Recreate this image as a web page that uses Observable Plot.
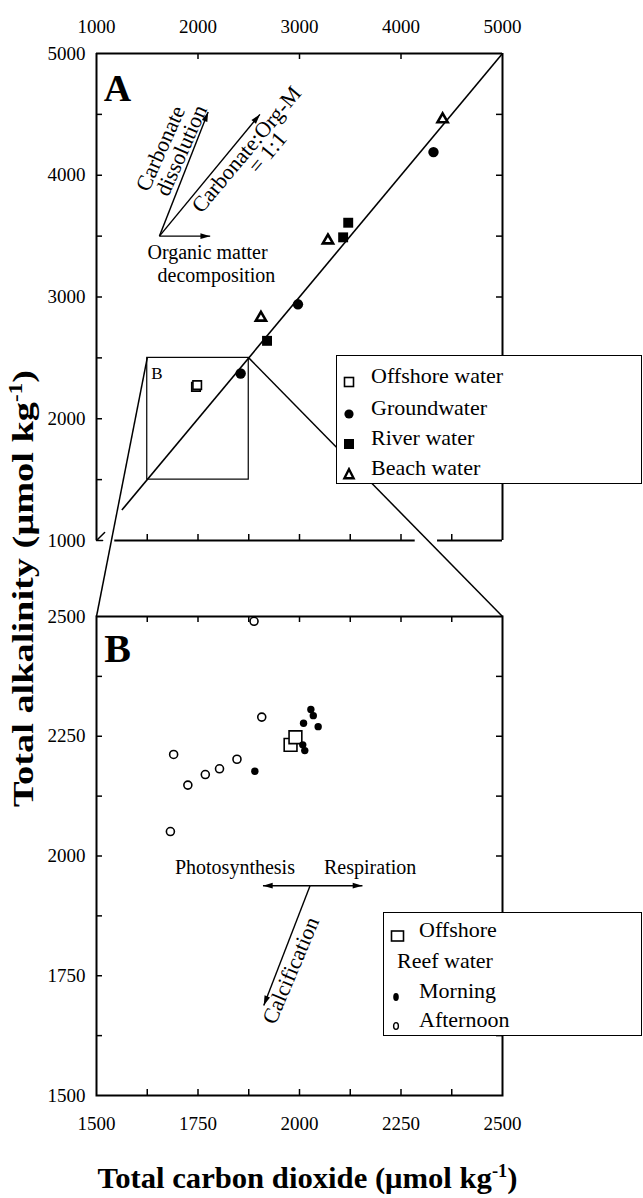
<!DOCTYPE html>
<html>
<head>
<meta charset="utf-8">
<script src="https://cdn.jsdelivr.net/npm/d3@7"></script>
<script src="https://cdn.jsdelivr.net/npm/@observablehq/plot@0.6"></script>
<style>
html,body{margin:0;padding:0;background:#fff;}
#wrap{position:relative;width:643px;height:1198px;overflow:hidden;background:#fff;}
#wrap > svg{position:absolute;left:0;top:0;}
.legend{position:absolute;background:#fff;border:1.6px solid #000;box-sizing:border-box;font-family:"Liberation Serif","Times New Roman",serif;font-size:22px;color:#000;z-index:5;}
.legend .sym{position:absolute;}
.legend .lab{position:absolute;line-height:1;white-space:nowrap;}
</style>
</head>
<body>
<div id="wrap"></div>
<script>
// ---------------- DATA ----------------
// Panel A (full range)
const xDomainA = [1000, 5000];
const yDomainA = [1000, 5000];
const tickLabelsA = [1000, 2000, 3000, 4000, 5000];
const minorTicksA = [1500, 2000, 2500, 3000, 3500, 4000, 4500];
const topTicksA = [2000, 3000, 4000];
const bottomEdgeA = [[1180, 4140], [4360, 5000]];
const breakMarkA = [[1080, 1065], [1000, 1000], [1060, 1000]];
const oneToOneLine = [1250, 5000];

const offshoreAx = [1980, 1992];
const offshoreAy = [2262, 2276];
const groundAx = [2420, 2985, 4320];
const groundAy = [2372, 2940, 4190];
const riverAx = [2680, 3430, 3480];
const riverAy = [2640, 3490, 3610];
const beachAx = [2620, 3280, 4410];
const beachAy = [2830, 3465, 4460];

const arrowA_x1 = [1620, 1620, 1620];
const arrowA_y1 = [3500, 3500, 3500];
const arrowA_x2 = [2120, 2100, 2610];
const arrowA_y2 = [3500, 4520, 4500];

const annoA_text = ["Carbonate", "dissolution", "Carbonate:Org-M", "= 1:1", "Organic matter", "decomposition"];
const annoA_x = [1631, 1837, 2478, 2685, 2094, 2182];
const annoA_y = [4220, 4203, 4211, 4187, 3365, 3177];
const annoA_rot = [-66, -66, -50, -50, 0, 0];

// Panel B (zoom)
const xDomainB = [1500, 2500];
const yDomainB = [1500, 2500];
const tickLabelsB = [1500, 1750, 2000, 2250, 2500];
const minorTicksB = [1625, 1750, 1875, 2000, 2125, 2250, 2375];

const offshoreBx = [1978, 1990];
const offshoreBy = [2232, 2248];
const morningX = [1890, 2010, 2008, 2013, 2028, 2034, 2046];
const morningY = [2177, 2277, 2232, 2220, 2306, 2293, 2270];
const afternoonX = [1682, 1690, 1725, 1768, 1803, 1846, 1888, 1907];
const afternoonY = [2051, 2212, 2148, 2170, 2182, 2202, 2490, 2290];

const arrowB_x1 = [2026, 2026, 2026];
const arrowB_y1 = [1938, 1938, 1938];
const arrowB_x2 = [1910, 2155, 1912];
const arrowB_y2 = [1938, 1938, 1688];

const annoB_text = ["Photosynthesis", "Respiration", "Calcification"];
const annoB_x = [1841, 2174, 1979];
const annoB_y = [1976, 1976, 1761];
const annoB_rot = [0, 0, -67];

const legendA_labels = ["Offshore water", "Groundwater", "River water", "Beach water"];
const legendB_labels = ["Offshore", "Reef water", "Morning", "Afternoon"];

const xTitle = "Total carbon dioxide (\u03bcmol kg";
const yTitle = "Total alkalinity (\u03bcmol kg";

// ---------------- LAYOUT ----------------
const W = 643, H = 1198;
const A = {l: 96, r: 502, t: 53, b: 540};
const B = {l: 96, r: 502, t: 616, b: 1095};
const TL = 6; // tick length
const serif = '"Liberation Serif","Times New Roman",serif';
const baseStyle = {background: "transparent", fontFamily: serif, fontSize: "19px", color: "#000", overflow: "visible"};
const fmt = d3.format("d");

const sxA = Plot.scale({x: {domain: xDomainA, range: [A.l, A.r]}});
const syA = Plot.scale({y: {domain: yDomainA, range: [A.b, A.t]}});
const sxB = Plot.scale({x: {domain: xDomainB, range: [B.l, B.r]}});
const syB = Plot.scale({y: {domain: yDomainB, range: [B.b, B.t]}});

const arrowHead = {
  draw(ctx, size) {
    const s = Math.sqrt(size);
    ctx.moveTo(0, 0);
    ctx.lineTo(-s * 0.3, s);
    ctx.lineTo(s * 0.3, s);
    ctx.closePath();
  }
};
function headAngle(d, sx, sy) {
  const dx = sx.apply(d.x2) - sx.apply(d.x1), dy = sy.apply(d.y2) - sy.apply(d.y1);
  return Math.atan2(dy, dx) * 180 / Math.PI + 90;
}
const zip = (xs, ys) => xs.map((x, i) => ({x, y: ys[i]}));

const arrowsA = arrowA_x1.map((x1, i) => ({x1, y1: arrowA_y1[i], x2: arrowA_x2[i], y2: arrowA_y2[i]}));
const arrowsB = arrowB_x1.map((x1, i) => ({x1, y1: arrowB_y1[i], x2: arrowB_x2[i], y2: arrowB_y2[i]}));
const annoA = annoA_text.map((t, i) => ({t, x: annoA_x[i], y: annoA_y[i], a: annoA_rot[i], s: annoA_rot[i] ? 22 : 20}));
const annoB = annoB_text.map((t, i) => ({t, x: annoB_x[i], y: annoB_y[i], a: annoB_rot[i], s: annoB_rot[i] ? 22 : 20}));

// zoom connector lines: from box corners in A to the top corners of panel B
const zoomLinks = xDomainB.map(v => ({
  x1: v, y1: yDomainB[1],
  x2: sxA.invert(sxB.apply(v)), y2: syA.invert(syB.apply(yDomainB[1]))
}));

// axis-title anchor points (pixel position converted through the panel scales)
const yTitlePos = [{x: sxA.invert(23), y: syA.invert(588)}];
const xTitlePos = [{x: sxB.invert(307), y: syB.invert(1178)}];

const fhA = A.b - A.t, fwA = A.r - A.l;
const fhB = B.b - B.t, fwB = B.r - B.l;

// ---------------- PANEL A ----------------
const plotA = Plot.plot({
  width: W, height: H,
  marginLeft: A.l, marginRight: W - A.r, marginTop: A.t, marginBottom: H - A.b,
  x: {domain: xDomainA}, y: {domain: yDomainA},
  style: baseStyle,
  marks: [
    Plot.axisX(tickLabelsA, {anchor: "top", tickSize: 0, tickPadding: 21, label: null, tickFormat: fmt}),
    Plot.axisY(tickLabelsA, {anchor: "left", tickSize: 0, tickPadding: 11, label: null, tickFormat: fmt}),
    Plot.tickX(topTicksA, {x: d => d, insetBottom: fhA - TL, strokeWidth: 1.5}),
    Plot.tickX(minorTicksA, {x: d => d, insetTop: fhA - TL, strokeWidth: 1.5}),
    Plot.tickY(minorTicksA, {y: d => d, insetRight: fwA - TL, strokeWidth: 1.5}),
    Plot.tickY(minorTicksA, {y: d => d, insetLeft: fwA - TL, strokeWidth: 1.5}),
    Plot.ruleY([yDomainA[1]], {x1: xDomainA[0], x2: xDomainA[1], strokeWidth: 2}),
    Plot.ruleX(xDomainA, {y1: yDomainA[0], y2: yDomainA[1], strokeWidth: 2}),
    Plot.ruleY(bottomEdgeA, {y: () => yDomainA[0], x1: d => d[0], x2: d => d[1], strokeWidth: 2}),
    Plot.line(breakMarkA, {x: d => d[0], y: d => d[1], strokeWidth: 1.5}),
    Plot.link([oneToOneLine], {x1: d => d[0], y1: d => d[0], x2: d => d[1], y2: d => d[1], strokeWidth: 1.6}),
    Plot.rect([0], {x1: () => xDomainB[0], x2: () => xDomainB[1], y1: () => yDomainB[0], y2: () => yDomainB[1], fill: "none", stroke: "black", strokeWidth: 1.2}),
    Plot.link(zoomLinks, {x1: "x1", y1: "y1", x2: "x2", y2: "y2", strokeWidth: 1.5}),
    Plot.text(["B"], {x: () => xDomainB[0], y: () => yDomainB[1], dx: 4, dy: 16, textAnchor: "start", lineAnchor: "middle", fontSize: 17}),
    Plot.text(["A"], {frameAnchor: "top-left", textAnchor: "middle", lineAnchor: "middle", dx: 21, dy: 35, fontSize: 38, fontWeight: "bold"}),
    // arrows
    Plot.link(arrowsA, {x1: "x1", y1: "y1", x2: "x2", y2: "y2", strokeWidth: 1.4}),
    Plot.dot(arrowsA, {x: "x2", y: "y2", symbol: arrowHead, r: 5.5, fill: "black", stroke: "none", rotate: d => headAngle(d, sxA, syA)}),
    Plot.text(annoA, {x: "x", y: "y", text: "t", rotate: "a", fontSize: d => d.s}),
    // data
    Plot.dot(zip(offshoreAx, offshoreAy), {x: "x", y: "y", symbol: "square", r: 4.8, fill: "white", stroke: "black", strokeWidth: 1.6}),
    Plot.dot(zip(groundAx, groundAy), {x: "x", y: "y", r: 5.2, fill: "black"}),
    Plot.dot(zip(riverAx, riverAy), {x: "x", y: "y", symbol: "square", r: 5.6, fill: "black"}),
    Plot.dot(zip(beachAx, beachAy), {x: "x", y: "y", symbol: "triangle", r: 3.8, fill: "white", stroke: "black", strokeWidth: 2.6}),
    // y axis title
    Plot.text(yTitlePos, {x: "x", y: "y", text: () => yTitle, rotate: -90, fontSize: 30, fontWeight: "bold"})
  ]
});

// ---------------- PANEL B ----------------
const plotB = Plot.plot({
  width: W, height: H,
  marginLeft: B.l, marginRight: W - B.r, marginTop: B.t, marginBottom: H - B.b,
  x: {domain: xDomainB}, y: {domain: yDomainB},
  style: baseStyle,
  marks: [
    Plot.axisX(tickLabelsB, {anchor: "bottom", tickSize: 0, tickPadding: 21, label: null, tickFormat: fmt}),
    Plot.axisY(tickLabelsB, {anchor: "left", tickSize: 0, tickPadding: 11, label: null, tickFormat: fmt}),
    Plot.tickX(minorTicksB, {x: d => d, insetBottom: fhB - TL, strokeWidth: 1.5}),
    Plot.tickX(minorTicksB, {x: d => d, insetTop: fhB - TL, strokeWidth: 1.5}),
    Plot.tickY(minorTicksB, {y: d => d, insetRight: fwB - TL, strokeWidth: 1.5}),
    Plot.tickY(minorTicksB, {y: d => d, insetLeft: fwB - TL, strokeWidth: 1.5}),
    Plot.frame({strokeWidth: 2}),
    Plot.text(["B"], {frameAnchor: "top-left", textAnchor: "middle", lineAnchor: "middle", dx: 21, dy: 33, fontSize: 40, fontWeight: "bold"}),
    Plot.link(arrowsB, {x1: "x1", y1: "y1", x2: "x2", y2: "y2", strokeWidth: 1.4}),
    Plot.dot(arrowsB, {x: "x2", y: "y2", symbol: arrowHead, r: 5.5, fill: "black", stroke: "none", rotate: d => headAngle(d, sxB, syB)}),
    Plot.text(annoB, {x: "x", y: "y", text: "t", rotate: "a", fontSize: d => d.s}),
    Plot.dot(zip(offshoreBx, offshoreBy), {x: "x", y: "y", symbol: "square", r: 7.2, fill: "white", stroke: "black", strokeWidth: 1.6}),
    Plot.dot(zip(morningX, morningY), {x: "x", y: "y", r: 3.7, fill: "black"}),
    Plot.dot(zip(afternoonX, afternoonY), {x: "x", y: "y", r: 4, fill: "white", stroke: "black", strokeWidth: 1.6}),
    Plot.text(xTitlePos, {x: "x", y: "y", text: () => xTitle, fontSize: 30, fontWeight: "bold"})
  ]
});

const wrap = document.getElementById("wrap");
wrap.appendChild(plotA);
wrap.appendChild(plotB);

// superscript "-1" on axis titles, fitted to the reference width
function superTitle(svg, base, len) {
  d3.select(svg).selectAll("text").filter(function () { return this.textContent === base; }).each(function () {
    const t = d3.select(this);
    t.text(null);
    t.append("tspan").text(base);
    t.append("tspan").attr("dy", "-0.62em").attr("font-size", "0.6em").text("-1");
    t.append("tspan").attr("dy", "0.372em").text(")");
    t.attr("textLength", len).attr("lengthAdjust", "spacingAndGlyphs");
  });
}
superTitle(plotB, xTitle, 420);
superTitle(plotA, yTitle, 437);

// ---------------- LEGENDS ----------------
const symSVG = {
  openSquare: '<svg width="14" height="14"><rect x="2.5" y="2.5" width="9" height="9" fill="white" stroke="black" stroke-width="1.6"/></svg>',
  dot: '<svg width="14" height="14"><circle cx="7" cy="7" r="4.6" fill="black"/></svg>',
  square: '<svg width="14" height="14"><rect x="2" y="2" width="10" height="10" fill="black"/></svg>',
  triangle: '<svg width="14" height="14"><path d="M7,2.2L11.6,11.2L2.4,11.2Z" fill="white" stroke="black" stroke-width="2.4" stroke-linejoin="miter"/></svg>',
  bigOpenSquare: '<svg width="16" height="14"><rect x="1.5" y="2" width="12" height="10" fill="white" stroke="black" stroke-width="1.6"/></svg>',
  smallDot: '<svg width="14" height="14"><ellipse cx="7" cy="7" rx="2.8" ry="4" fill="black"/></svg>',
  smallRing: '<svg width="14" height="14"><ellipse cx="7" cy="7" rx="2.4" ry="3.4" fill="white" stroke="black" stroke-width="1.4"/></svg>'
};
function legend(box, rows) {
  const div = document.createElement("div");
  div.className = "legend";
  Object.assign(div.style, {left: box.x + "px", top: box.y + "px", width: box.w + "px", height: box.h + "px"});
  rows.forEach(r => {
    if (r.sym) {
      const s = document.createElement("div");
      s.className = "sym";
      s.innerHTML = symSVG[r.sym];
      Object.assign(s.style, {left: (r.sx - 7) + "px", top: (r.cy - 7) + "px", height: "14px"});
      div.appendChild(s);
    }
    const l = document.createElement("div");
    l.className = "lab";
    l.textContent = r.text;
    Object.assign(l.style, {left: r.tx + "px", top: (r.cy - 11) + "px"});
    div.appendChild(l);
  });
  wrap.appendChild(div);
}
legend({x: 336, y: 355, w: 306, h: 129}, [
  {sym: "openSquare", sx: 12, tx: 34, cy: 20, text: legendA_labels[0]},
  {sym: "dot", sx: 12, tx: 34, cy: 52, text: legendA_labels[1]},
  {sym: "square", sx: 12, tx: 34, cy: 82, text: legendA_labels[2]},
  {sym: "triangle", sx: 12, tx: 34, cy: 112, text: legendA_labels[3]}
]);
legend({x: 383, y: 912, w: 259, h: 124}, [
  {sym: "bigOpenSquare", sx: 13, tx: 35, cy: 17, text: legendB_labels[0]},
  {tx: 13, cy: 48, text: legendB_labels[1]},
  {sym: "smallDot", sx: 12, tx: 35, cy: 78, text: legendB_labels[2]},
  {sym: "smallRing", sx: 12, tx: 35, cy: 107, text: legendB_labels[3]}
]);
</script>
</body>
</html>
